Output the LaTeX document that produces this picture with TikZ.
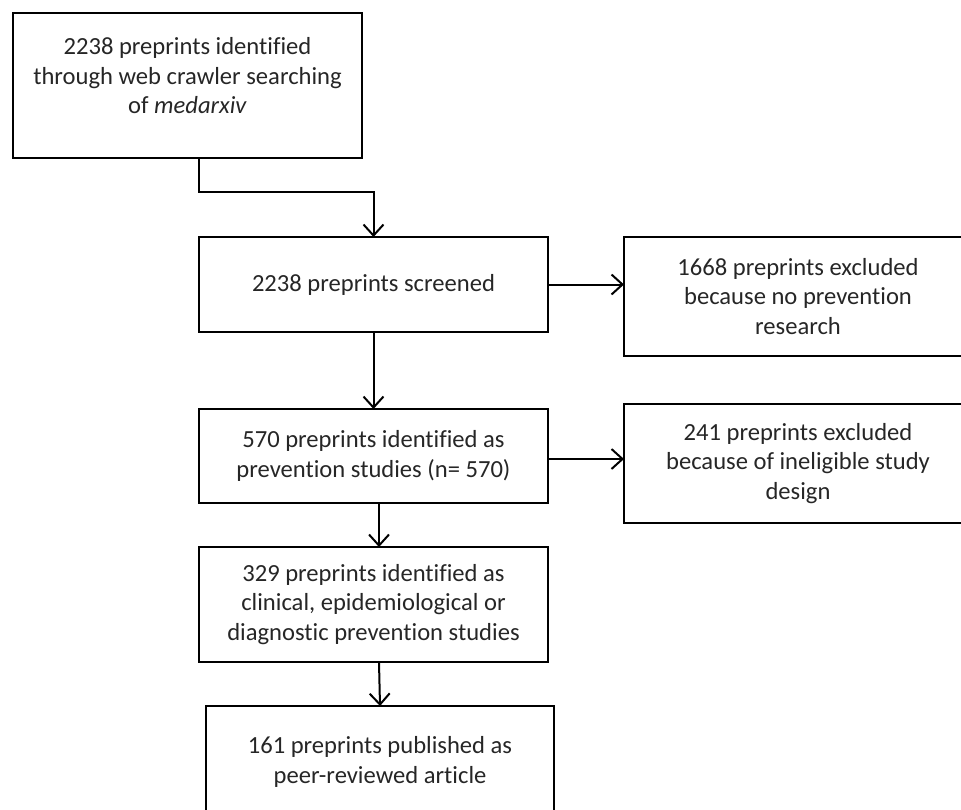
\documentclass[tikz,border=0pt]{standalone}
\usepackage{fontspec}
\setmainfont{Carlito}[Ligatures=CommonOff]
\usetikzlibrary{arrows.meta}
\begin{document}
\begin{tikzpicture}[x=1pt,y=-1pt,
  box/.style={draw=black, line width=2.2pt, inner sep=0pt, outer sep=0pt},
  txt/.style={align=center, text=black!85, inner sep=0pt, font=\fontsize{24.6}{29.5}\selectfont},
  arr/.style={line width=2pt, -{Straight Barb[length=11pt,width=20pt,line width=2pt]}}]
\useasboundingbox (0,0) rectangle (961,809);
\clip (0,0) rectangle (961,809);
% boxes
\node[box, minimum width=349pt, minimum height=145pt] (b1) at (187.5,85.5) {};
\node[txt] (t1) at (187.5,76) {2238 preprints identified\\through web crawler searching\\of \textit{medarxiv}};
\node[box, txt, minimum width=349pt, minimum height=95pt] (b2) at (373.5,284.5) {2238 preprints screened};
\node[box, txt, minimum width=348pt, minimum height=119pt] (b3) at (798,296.5) {1668 preprints excluded\\because no prevention\\research};
\node[box, txt, minimum width=349pt, minimum height=94pt] (b4) at (373.5,456) {570 preprints identified as\\prevention studies (n= 570)};
\node[box, txt, minimum width=348pt, minimum height=119pt] (b5) at (798,463.5) {241 preprints excluded\\because of ineligible study\\design};
\node[box, txt, minimum width=349pt, minimum height=115pt] (b6) at (373.5,604.5) {329 preprints identified as\\clinical, epidemiological or\\diagnostic prevention studies};
\node[box, minimum width=348pt, minimum height=134pt] (b7) at (380,773) {};
\node[txt] (t7) at (380,762) {161 preprints published as\\peer-reviewed article};
% connectors
\draw[arr] ([xshift=11.5pt]b1.south) |- ++(0,34) -| (b2.north);
\draw[arr] (b2.east) -- (b2.east -| b3.west);
\draw[arr] (b2.south) -- (b4.north);
\draw[arr] ([yshift=-3pt]b4.east) -- ([yshift=-3pt]b4.east -| b5.west);
\draw[arr] ([xshift=5.5pt]b4.south) -- ([xshift=5.5pt]b4.south |- b6.north);
\draw[arr] ([xshift=5.5pt]b6.south) -- (b7.north);
\end{tikzpicture}
\end{document}
